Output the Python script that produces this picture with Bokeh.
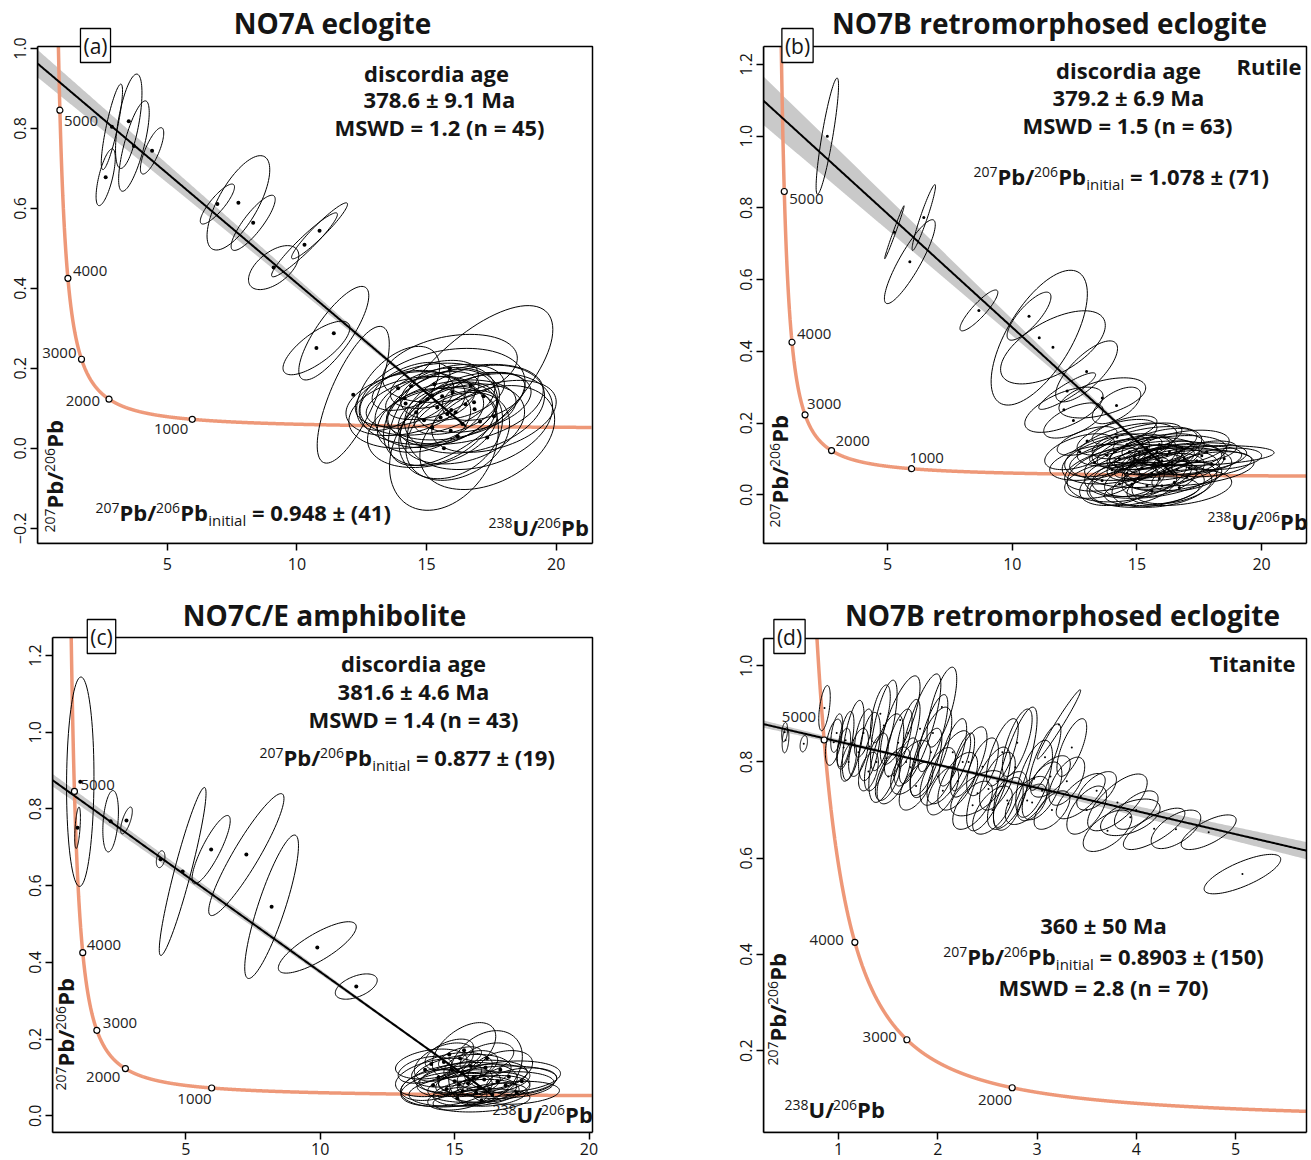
import numpy as np
from bokeh.plotting import figure
from bokeh.layouts import column, row
from bokeh.models import Range1d, FixedTicker, Label
from bokeh.embed import file_html
from bokeh.resources import INLINE

FONT = "Open Sans"

# ---- constants for the Tera-Wasserburg concordia ----
LAMBDA_238 = 1.55125e-4   # per Ma
LAMBDA_235 = 9.8485e-4    # per Ma
U238_U235 = 137.818
concordia_ages = [1000, 2000, 3000, 4000, 5000]

# ---- panel (a): NO7A eclogite ----
a_x = [2.86, 3.51, 3.71, 4.41, 2.62, 6.93, 7.74, 8.31, 9.10, 10.29, 10.87, 11.42, 10.75, 12.17, 16.70,
       13.9, 15.9, 14.15, 14.19, 14.77, 15.03, 15.22, 15.41, 15.54, 15.80, 15.95, 16.12, 16.38, 16.83, 16.85,
       17.06, 17.34, 15.67, 15.93, 15.22, 14.6, 16.5, 17.6, 16.0, 14.9, 15.6, 16.2, 17.2, 15.3, 14.4]
a_y = [0.804, 0.818, 0.756, 0.744, 0.678, 0.611, 0.614, 0.564, 0.452, 0.509, 0.544, 0.288, 0.251, 0.134, 0.157,
       0.15, 0.20, 0.125, 0.112, 0.115, 0.123, 0.132, 0.102, 0.077, 0.086, 0.096, 0.09, 0.061, 0.115, 0.098,
       0.067, 0.027, 0.0, 0.044, 0.052, 0.09, 0.11, 0.08, 0.14, 0.07, 0.13, 0.03, 0.13, 0.16, 0.155]
a_sx = [0.41, 0.51, 0.59, 0.45, 0.37, 0.66, 1.21, 0.85, 0.97, 1.27, 1.08, 1.35, 1.29, 1.39, 3.17,
        1.6, 2.6, 1.9, 2.3, 2.1, 2.6, 1.8, 2.4, 2.2, 1.9, 2.5, 1.6, 2.4, 2.2, 2.7,
        2.8, 2.6, 2.1, 2.0, 2.5, 2.6, 3.0, 2.4, 2.0, 1.8, 3.2, 2.0, 1.6, 1.7, 1.5]
a_sy = [0.107, 0.118, 0.113, 0.058, 0.071, 0.050, 0.118, 0.069, 0.055, 0.080, 0.070, 0.117, 0.067, 0.171, 0.200,
        0.105, 0.085, 0.07, 0.08, 0.065, 0.09, 0.06, 0.1, 0.12, 0.08, 0.075, 0.055, 0.1, 0.075, 0.11,
        0.12, 0.13, 0.155, 0.12, 0.1, 0.09, 0.1, 0.09, 0.07, 0.08, 0.12, 0.11, 0.06, 0.06, 0.06]
a_rho = [0.84, 0.60, 0.74, 0.77, 0.68, 0.85, 0.70, 0.85, 0.55, 0.95, 0.95, 0.80, 0.75, 0.74, 0.70,
         0.5, 0.3, 0.35, 0.3, 0.4, 0.3, 0.45, 0.3, 0.35, 0.4, 0.3, 0.5, 0.3, 0.35, 0.3,
         0.3, 0.35, 0.3, 0.25, 0.3, 0.25, 0.35, 0.4, 0.3, 0.3, 0.3, 0.3, 0.4, 0.4, 0.5]
a_age, a_y0 = 378.6, 0.962
a_band = (15.5, 0.004, 0.0022)
a_xticks = [5, 10, 15, 20]
a_yticks = [-0.2, 0.0, 0.2, 0.4, 0.6, 0.8, 1.0]
a_ylabels = ["\u22120.2", "0.0", "0.2", "0.4", "0.6", "0.8", "1.0"]

# ---- panel (b): NO7B rutile ----
b_x = [2.58, 5.27, 6.45, 5.89, 8.66, 10.67, 11.08, 11.63, 12.98, 12.20, 12.07, 13.61, 14.18, 12.45,
       14.2, 14.6, 15.0, 15.4, 15.8, 16.2, 13.8, 14.3, 14.9, 15.3, 15.7, 16.4, 16.9, 17.4, 17.6,
       14.0, 14.6, 15.2, 15.6, 16.1, 16.6, 17.1, 14.8, 15.4, 16.0, 16.5, 13.6, 14.3, 15.1, 15.5,
       14.7, 16.0, 15.9, 14.5, 16.8, 13.3, 15.2, 15.9, 16.3, 14.9, 17.0, 18.0, 15.6, 14.1, 16.7,
       13.0, 12.7, 17.8, 18.5]
b_y = [1.00, 0.732, 0.773, 0.650, 0.514, 0.498, 0.438, 0.411, 0.344, 0.289, 0.237, 0.270, 0.249, 0.207,
       0.16, 0.14, 0.15, 0.13, 0.12, 0.11, 0.11, 0.10, 0.10, 0.09, 0.085, 0.09, 0.10, 0.095, 0.109,
       0.07, 0.06, 0.055, 0.06, 0.065, 0.07, 0.075, 0.03, 0.025, 0.025, 0.035, 0.04, 0.03, 0.12, 0.105,
       0.12, 0.095, 0.14, 0.18, 0.13, 0.09, 0.075, 0.045, 0.12, 0.04, 0.05, 0.085, 0.01, 0.12, 0.02,
       0.15, 0.12, 0.12, 0.10]
b_sx = [0.45, 0.39, 0.47, 1.02, 0.76, 0.88, 1.93, 2.10, 1.24, 1.14, 1.57, 1.74, 0.97, 1.19,
        1.6, 2.0, 1.8, 2.2, 1.9, 2.4, 1.7, 2.3, 2.6, 1.5, 2.8, 2.0, 2.5, 1.8, 2.9,
        1.9, 2.4, 2.0, 2.7, 1.6, 2.2, 2.6, 1.8, 2.3, 2.0, 1.7, 1.5, 1.6, 1.2, 1.4,
        1.3, 1.3, 1.5, 1.3, 1.9, 1.8, 1.1, 1.5, 1.0, 1.2, 1.4, 1.6, 1.9, 1.0, 2.1,
        1.2, 1.4, 1.2, 1.5]
b_sy = [0.162, 0.074, 0.092, 0.117, 0.057, 0.067, 0.188, 0.102, 0.085, 0.051, 0.063, 0.056, 0.051, 0.049,
        0.05, 0.06, 0.05, 0.06, 0.05, 0.055, 0.06, 0.07, 0.06, 0.05, 0.065, 0.05, 0.045, 0.04, 0.028,
        0.06, 0.08, 0.06, 0.07, 0.05, 0.06, 0.05, 0.06, 0.06, 0.06, 0.06, 0.05, 0.06, 0.04, 0.035,
        0.045, 0.04, 0.045, 0.04, 0.05, 0.05, 0.03, 0.05, 0.03, 0.045, 0.04, 0.035, 0.04, 0.035, 0.05,
        0.04, 0.05, 0.03, 0.03]
b_rho = [0.87, 0.99, 0.95, 0.88, 0.88, 0.80, 0.65, 0.60, 0.75, 0.90, 0.60, 0.50, 0.60, 0.60,
         0.55, 0.5, 0.6, 0.4, 0.45, 0.35, 0.45, 0.4, 0.35, 0.5, 0.3, 0.4, 0.35, 0.4, 0.3,
         0.4, 0.3, 0.35, 0.3, 0.4, 0.35, 0.3, 0.3, 0.25, 0.3, 0.35, 0.4, 0.35, 0.6, 0.5,
         0.55, 0.5, 0.5, 0.6, 0.4, 0.4, 0.5, 0.4, 0.6, 0.4, 0.4, 0.35, 0.3, 0.6, 0.3,
         0.6, 0.5, 0.4, 0.3]
b_age, b_y0 = 379.2, 1.10
b_band = (15.0, 0.005, 0.0045)
b_xticks = [0, 5, 10, 15, 20]
b_yticks = [0.0, 0.2, 0.4, 0.6, 0.8, 1.0, 1.2]
b_ylabels = ["0.0", "0.2", "0.4", "0.6", "0.8", "1.0", "1.2"]

# ---- panel (c): NO7C/E amphibolite ----
c_x = [1.07, 0.97, 2.20, 2.79, 4.06, 4.88, 5.94, 7.25, 8.19, 9.89, 11.34,
       15.35, 16.15, 14.13, 17.02, 15.16, 14.6, 14.9, 15.3, 15.7, 16.1, 16.6, 14.4, 15.0, 15.5, 15.9,
       16.3, 16.9, 14.7, 15.3, 15.8, 16.4, 14.2, 15.6, 14.8, 16.7, 17.5, 15.1, 16.0, 13.9, 15.2, 16.2, 17.3]
c_y = [0.871, 0.751, 0.768, 0.770, 0.669, 0.637, 0.694, 0.681, 0.545, 0.439, 0.337,
       0.171, 0.126, 0.135, 0.102, 0.081, 0.14, 0.12, 0.11, 0.10, 0.095, 0.09, 0.10, 0.09, 0.085, 0.075,
       0.07, 0.08, 0.07, 0.065, 0.06, 0.055, 0.08, 0.13, 0.16, 0.12, 0.09, 0.045, 0.04, 0.12, 0.15, 0.15, 0.06]
c_sx = [0.51, 0.106, 0.29, 0.217, 0.16, 0.87, 0.71, 1.40, 1.00, 1.45, 0.78,
        1.18, 1.37, 1.33, 1.92, 2.17, 1.1, 1.5, 1.8, 2.0, 1.7, 2.2, 1.6, 1.4, 1.2, 1.9,
        1.5, 1.8, 1.7, 2.0, 1.6, 1.3, 1.2, 1.0, 0.9, 1.2, 1.3, 1.1, 1.8, 1.0, 0.8, 1.0, 1.6]
c_sy = [0.273, 0.054, 0.080, 0.035, 0.022, 0.219, 0.089, 0.159, 0.187, 0.067, 0.033,
        0.072, 0.096, 0.039, 0.041, 0.058, 0.05, 0.045, 0.05, 0.045, 0.04, 0.04, 0.05, 0.04, 0.035, 0.04,
        0.035, 0.035, 0.045, 0.04, 0.035, 0.03, 0.04, 0.04, 0.04, 0.05, 0.035, 0.03, 0.03, 0.035, 0.03, 0.04, 0.03]
c_rho = [0.05, 0.5, 0.3, 0.7, 0.3, 0.93, 0.85, 0.92, 0.85, 0.80, 0.5,
         0.5, 0.3, 0.3, 0.2, 0.3, 0.45, 0.35, 0.3, 0.3, 0.25, 0.2, 0.35, 0.3, 0.3, 0.25,
         0.25, 0.2, 0.3, 0.25, 0.25, 0.3, 0.35, 0.4, 0.5, 0.35, 0.25, 0.3, 0.25, 0.4, 0.5, 0.4, 0.2]
c_age, c_y0 = 381.6, 0.877
c_band = (15.0, 0.003, 0.00107)
c_xticks = [0, 5, 10, 15, 20]
c_yticks = [0.0, 0.2, 0.4, 0.6, 0.8, 1.0, 1.2]
c_ylabels = ["0.0", "0.2", "0.4", "0.6", "0.8", "1.0", "1.2"]

# ---- panel (d): NO7B titanite ----
d_x = [0.464, 0.455, 0.648, 0.857,
       3.22, 3.08, 3.135, 3.44, 3.81, 3.71, 3.94, 4.18, 4.73, 5.07,
       0.95, 1.07, 1.146, 1.31, 1.455, 1.48, 1.62, 1.82, 2.04, 1.555, 1.724, 1.93, 2.11, 2.31, 2.40,
       2.51, 2.78, 2.97, 2.71, 2.95,
       1.20, 1.38, 1.60, 1.70, 1.88, 2.00, 2.20, 2.15, 2.45, 2.60, 2.70, 2.90, 1.05, 1.25, 1.50, 1.78,
       2.35, 2.55, 3.30, 3.50, 2.80, 3.05, 1.30, 1.95,
       1.10, 1.42, 1.68, 2.05, 2.25, 2.65, 3.15, 3.60, 4.00, 4.40, 0.98, 3.35]
d_y = [0.845, 0.862, 0.838, 0.912,
       0.878, 0.810, 0.770, 0.729, 0.716, 0.657, 0.685, 0.661, 0.654, 0.567,
       0.841, 0.845, 0.845, 0.832, 0.876, 0.808, 0.887, 0.869, 0.914, 0.772, 0.789, 0.820, 0.789, 0.800, 0.735,
       0.744, 0.789, 0.765, 0.713, 0.716,
       0.82, 0.80, 0.84, 0.86, 0.80, 0.77, 0.76, 0.82, 0.79, 0.76, 0.72, 0.72, 0.83, 0.86, 0.77, 0.75,
       0.71, 0.70, 0.76, 0.70, 0.84, 0.74, 0.78, 0.86,
       0.80, 0.90, 0.80, 0.74, 0.80, 0.82, 0.70, 0.74, 0.70, 0.66, 0.86, 0.83]
d_sx = [0.034, 0.030, 0.037, 0.058,
        0.219, 0.16, 0.20, 0.247, 0.30, 0.245, 0.30, 0.31, 0.277, 0.386,
        0.084, 0.084, 0.11, 0.11, 0.134, 0.176, 0.20, 0.21, 0.15, 0.168, 0.20, 0.21, 0.22, 0.185, 0.27,
        0.22, 0.22, 0.185, 0.15, 0.15,
        0.10, 0.12, 0.14, 0.12, 0.16, 0.18, 0.20, 0.14, 0.16, 0.18, 0.20, 0.22, 0.07, 0.09, 0.13, 0.17,
        0.20, 0.20, 0.18, 0.20, 0.15, 0.20, 0.10, 0.15,
        0.08, 0.10, 0.12, 0.16, 0.12, 0.16, 0.18, 0.20, 0.22, 0.25, 0.06, 0.15]
d_sy = [0.026, 0.020, 0.017, 0.047,
        0.072, 0.069, 0.043, 0.047, 0.059, 0.043, 0.038, 0.043, 0.036, 0.041,
        0.048, 0.060, 0.083, 0.071, 0.094, 0.092, 0.092, 0.114, 0.083, 0.059, 0.056, 0.094, 0.076, 0.073, 0.047,
        0.087, 0.125, 0.080, 0.055, 0.038,
        0.05, 0.06, 0.07, 0.07, 0.07, 0.06, 0.06, 0.07, 0.06, 0.06, 0.06, 0.05, 0.04, 0.05, 0.05, 0.05,
        0.05, 0.05, 0.05, 0.05, 0.07, 0.06, 0.04, 0.08,
        0.04, 0.06, 0.05, 0.05, 0.06, 0.07, 0.04, 0.04, 0.04, 0.04, 0.04, 0.06]
d_rho = [0.3, 0.3, 0.3, 0.5,
         0.98, 0.8, 0.6, 0.7, 0.7, 0.6, 0.5, 0.75, 0.7, 0.75,
         0.5, 0.6, 0.6, 0.5, 0.7, 0.6, 0.75, 0.8, 0.7, 0.6, 0.6, 0.7, 0.7, 0.7, 0.6,
         0.7, 0.8, 0.6, 0.5, 0.5,
         0.5, 0.6, 0.7, 0.7, 0.7, 0.6, 0.6, 0.7, 0.6, 0.6, 0.6, 0.6, 0.5, 0.6, 0.6, 0.6,
         0.6, 0.6, 0.6, 0.6, 0.7, 0.6, 0.5, 0.75,
         0.5, 0.6, 0.6, 0.6, 0.7, 0.7, 0.6, 0.6, 0.6, 0.6, 0.5, 0.7]
d_age, d_y0 = 360.0, 0.8903
d_band = (1.8, 0.003, 0.0045)
d_xticks = [1, 2, 3, 4, 5]
d_yticks = [0.2, 0.4, 0.6, 0.8, 1.0]
d_ylabels = ["0.2", "0.4", "0.6", "0.8", "1.0"]


# ---------------------------------------------------------------
def concordia(t):
    t = np.asarray(t, dtype=float)
    e8 = np.exp(LAMBDA_238 * t) - 1.0
    e5 = np.exp(LAMBDA_235 * t) - 1.0
    return 1.0 / e8, e5 / e8 / U238_U235


REG_W = {"i": 0.253, "n": 0.614, "t": 0.353, "a": 0.556, "l": 0.253, " ": 0.26, ".": 0.266,
         "(": 0.296, ")": 0.296}
BOLD_W = {" ": 0.26, ".": 0.286, "=": 0.572, "\u00b1": 0.572, "(": 0.339, ")": 0.339, "/": 0.388,
          "P": 0.642, "b": 0.633, "U": 0.729, "M": 0.919, "S": 0.549, "W": 0.962, "D": 0.721,
          "n": 0.634, "a": 0.596, "d": 0.633, "i": 0.297, "s": 0.508, "c": 0.51, "o": 0.613,
          "r": 0.448, "g": 0.556, "e": 0.581}

BASELINE_FIX = 0.42   # rendered text sits ~0.42 em lower than the requested alphabetic baseline


def tw(s, size, bold):
    tbl = BOLD_W if bold else REG_W
    return sum(0.572 if ch.isdigit() else tbl.get(ch, 0.58 if bold else 0.55) for ch in s) * size


def to_data(cfg, px, py):
    return (cfg["box"][0] + (px - cfg["box_px"][0]) / cfg["sx"],
            cfg["box"][3] - (py - cfg["box_px"][1]) / cfg["sy"])


def add_label(p, cfg, px, py, text, size, bold, align="left", baseline="alphabetic", angle=0.0, **kw):
    if baseline == "alphabetic":
        if angle == 0.0:
            py = py - BASELINE_FIX * size
        else:
            px = px - BASELINE_FIX * size
    X, Y = to_data(cfg, px, py)
    p.add_layout(Label(x=X, y=Y, text=text, text_font=FONT, text_font_size=f"{size}px",
                       text_font_style="bold" if bold else "normal", text_align=align,
                       text_baseline=baseline, angle=angle, text_color="#151515", **kw))


def rich(p, cfg, pieces, px, py, align="left"):
    widths = [tw(s, sz, b) for (s, sz, b, sh) in pieces]
    total = sum(widths)
    x = px - total / 2 if align == "center" else (px - total if align == "right" else px)
    for (s, sz, b, sh), w in zip(pieces, widths):
        lead = len(s) - len(s.lstrip(" "))
        add_label(p, cfg, x + tw(" " * lead, sz, b), py - sh, s.lstrip(" "), sz, b)
        x += w


def rich_vertical(p, cfg, pieces, bx, by):
    y = by
    for (s, sz, b, sh) in pieces:
        add_label(p, cfg, bx - sh, y, s, sz, b, angle=np.pi / 2)
        y -= tw(s, sz, b)


SUP, MAIN, SUB = 14, 22, 15
RAISE, LOWER = 8, -5


def ratio(initial=False, tail=""):
    pcs = [("207", SUP, False, RAISE), ("Pb/", MAIN, True, 0), ("206", SUP, False, RAISE), ("Pb", MAIN, True, 0)]
    if initial:
        pcs.append(("initial", SUB, False, LOWER))
    if tail:
        pcs.append((tail, MAIN, True, 0))
    return pcs


XLAB = [("238", SUP, False, RAISE), ("U/", MAIN, True, 0), ("206", SUP, False, RAISE), ("Pb", MAIN, True, 0)]


def make_panel(cfg):
    W, H = cfg["size"]
    px0, py0 = cfg["page"]
    L, T, R, B = cfg["box_px"]
    x0, x1, y0, y1 = cfg["box"]
    sx = (R - L) / (x1 - x0)
    sy = (B - T) / (y1 - y0)
    cfg["sx"], cfg["sy"] = sx, sy
    bl = L - px0
    br = px0 + W - (R + 2)
    bb = py0 + H - B
    xr = (x0, x1 + 2.0 / sx)
    yr = (y0, y1 + (T - py0) / sy)

    p = figure(width=W, height=H, x_range=Range1d(*xr), y_range=Range1d(*yr),
               output_backend="svg", toolbar_location=None, title=None,
               min_border_left=bl, min_border_right=br, min_border_top=0, min_border_bottom=bb)
    p.background_fill_color = "white"
    p.border_fill_color = "white"
    p.xgrid.visible = False
    p.ygrid.visible = False
    p.outline_line_color = None
    p.xaxis.ticker = FixedTicker(ticks=cfg["xticks"])
    p.yaxis.ticker = FixedTicker(ticks=cfg["yticks"])
    p.yaxis.major_label_overrides = {float(v): s for v, s in zip(cfg["yticks"], cfg["ylabels"])}
    p.yaxis.major_label_orientation = "vertical"
    p.xaxis.bounds = (x0, x1)
    p.yaxis.bounds = (y0, y1)
    for ax in (p.xaxis[0], p.yaxis[0]):
        ax.major_tick_out = 7
        ax.major_tick_in = 0
        ax.minor_tick_out = 0
        ax.minor_tick_in = 0
        ax.major_tick_line_width = 1.5
        ax.axis_line_width = 1.5
        ax.major_label_text_font = FONT
        ax.major_label_text_font_size = "16px"
        ax.major_label_text_color = "#151515"
    p.xaxis.major_label_standoff = cfg["standoff"]
    p.yaxis.major_label_standoff = 4

    # discordia line and its confidence band (clipped at the plot box)
    xi, yi = concordia(cfg["age"])
    xi, yi = float(xi), float(yi)
    y0l = cfg["y0"]
    xl = np.linspace(0.0, min(xi, x1), 400)
    yl = y0l + (yi - y0l) * xl / xi
    xc, ec, k = cfg["band"]
    w = np.sqrt(ec ** 2 + (k * (xl - xc)) ** 2)
    p.varea(x=xl, y1=yl - w, y2=yl + w, fill_color="#c9c9c9")

    # concordia curve, kept inside the plot box
    t = np.linspace(40, 5800, 8000)
    cx, cy = concordia(t)
    keep = (cy <= y1) & (cx <= x1)
    p.line(cx[keep], cy[keep], line_color="#ee9878", line_width=3.5)

    p.line(xl, yl, line_color="black", line_width=2)

    # error ellipses
    tt = np.linspace(0, 2 * np.pi, 90)
    xs, ys = [], []
    for X, Y, ex, ey, r in zip(cfg["x"], cfg["y"], cfg["sx_"], cfg["sy_"], cfg["rho"]):
        xs.append((X + ex * np.cos(tt)).tolist())
        ys.append((Y + ey * (r * np.cos(tt) + np.sqrt(1 - r * r) * np.sin(tt))).tolist())
    p.patches(xs, ys, fill_color=None, line_color="black", line_width=1)
    p.scatter(cfg["x"], cfg["y"], size=cfg["dot"], color="black", line_color=None)

    # age ticks on the concordia
    ax_, ay_ = concordia(concordia_ages)
    inside = [(a, X, Y) for a, X, Y in zip(concordia_ages, ax_, ay_) if x0 <= X <= x1 and y0 <= Y <= y1]
    p.scatter([v[1] for v in inside], [v[2] for v in inside], size=6, fill_color="white",
              line_color="black", line_width=1.2)
    for age, X, Y in inside:
        dx, dy, al = cfg["agelab"][age]
        p.text(x=[X + dx / sx], y=[Y - dy / sy], text=[str(age)],
               text_font={"value": FONT}, text_font_size="15px",
               text_align=al, text_baseline="middle", text_color="#222222")

    # the plot box
    p.quad(left=[x0], right=[x1], bottom=[y0], top=[y1], fill_color=None, line_color="black", line_width=1.5)

    # texts
    tx, tb = cfg["title"]
    add_label(p, cfg, tx, tb, cfg["title_text"], 28, True, align="center")
    bx, by = cfg["tag"]
    add_label(p, cfg, bx, by, cfg["tag_text"], 21, False, align="center", baseline="middle",
              border_line_color="black", border_line_width=1.3, background_fill_color="white",
              padding=3)
    for text, px, py, al in cfg["lines"]:
        add_label(p, cfg, px, py, text, MAIN, True, align=al)
    ip, ipx, ipy, ial = cfg["initial"]
    rich(p, cfg, ratio(True, ip), ipx, ipy, align=ial)
    rich(p, cfg, XLAB, cfg["xlab"][0], cfg["xlab"][1])
    rich_vertical(p, cfg, ratio(), cfg["ylab"][0], cfg["ylab"][1])
    return p


panels = [
    dict(page=(0, 0), size=(655, 588), box_px=(37, 46, 592, 543), box=(-0.01, 21.4, -0.238, 1.005),
         x=a_x, y=a_y, sx_=a_sx, sy_=a_sy, rho=a_rho, age=a_age, y0=a_y0, band=a_band, dot=4,
         xticks=a_xticks, yticks=a_yticks, ylabels=a_ylabels, standoff=7,
         agelab={5000: (4, 11, "left"), 4000: (5, -7, "left"), 3000: (-5, -6, "right"),
                 2000: (-9, 2, "right"), 1000: (-4, 10, "right")},
         title=(332, 34), title_text="NO7A eclogite", tag=(95, 45), tag_text="(a)",
         lines=[("discordia age", 436, 82, "center"), ("378.6 \u00b1 9.1 Ma", 439, 108, "center"),
                ("MSWD = 1.2 (n = 45)", 439, 136, "center")],
         initial=(" = 0.948 \u00b1 (41)", 95, 521, "left"), xlab=(488, 536), ylab=(63, 532)),
    dict(page=(655, 0), size=(656, 588), box_px=(763, 46, 1306, 543), box=(0.02, 21.80, -0.136, 1.250),
         x=b_x, y=b_y, sx_=b_sx, sy_=b_sy, rho=b_rho, age=b_age, y0=b_y0, band=b_band, dot=3,
         xticks=b_xticks, yticks=b_yticks, ylabels=b_ylabels, standoff=7,
         agelab={5000: (5, 8, "left"), 4000: (5, -8, "left"), 3000: (2, -11, "left"),
                 2000: (4, -10, "left"), 1000: (-2, -11, "left")},
         title=(1049, 34), title_text="NO7B retromorphosed eclogite", tag=(797, 45), tag_text="(b)",
         lines=[("discordia age", 1128, 79, "center"), ("379.2 \u00b1 6.9 Ma", 1128, 106, "center"),
                ("MSWD = 1.5 (n = 63)", 1127, 134, "center"), ("Rutile", 1301, 75, "right")],
         initial=(" = 1.078 \u00b1 (71)", 973, 185, "left"), xlab=(1207, 530), ylab=(788, 527)),
    dict(page=(0, 588), size=(655, 572), box_px=(52, 637, 592, 1132), box=(0.037, 20.13, -0.0435, 1.247),
         x=c_x, y=c_y, sx_=c_sx, sy_=c_sy, rho=c_rho, age=c_age, y0=c_y0, band=c_band, dot=4,
         xticks=c_xticks, yticks=c_yticks, ylabels=c_ylabels, standoff=3,
         agelab={5000: (6, -6, "left"), 4000: (4, -8, "left"), 3000: (6, -7, "left"),
                 2000: (-5, 8, "right"), 1000: (0, 11, "right")},
         title=(324, 626), title_text="NO7C/E amphibolite", tag=(101, 636), tag_text="(c)",
         lines=[("discordia age", 413, 672, "center"), ("381.6 \u00b1 4.6 Ma", 413, 700, "center"),
                ("MSWD = 1.4 (n = 43)", 413, 728, "center")],
         initial=(" = 0.877 \u00b1 (19)", 259, 766, "left"), xlab=(492, 1123), ylab=(74, 1090)),
    dict(page=(655, 588), size=(656, 572), box_px=(763, 638, 1306, 1132), box=(0.242, 5.716, 0.030, 1.0566),
         x=d_x, y=d_y, sx_=d_sx, sy_=d_sy, rho=d_rho, age=d_age, y0=d_y0, band=d_band, dot=2,
         xticks=d_xticks, yticks=d_yticks, ylabels=d_ylabels, standoff=3,
         agelab={5000: (-8, -23, "right"), 4000: (-11, -2, "right"), 3000: (-10, -3, "right"),
                 2000: (0, 12, "right"), 1000: (0, 12, "right")},
         title=(1062, 626), title_text="NO7B retromorphosed eclogite", tag=(789, 636), tag_text="(d)",
         lines=[("Titanite", 1295, 672, "right"), ("360 \u00b1 50 Ma", 1103, 934, "center"),
                ("MSWD = 2.8 (n = 70)", 1103, 996, "center")],
         initial=(" = 0.8903 \u00b1 (150)", 1103, 965, "center"), xlab=(784, 1118), ylab=(786, 1065)),
]

figs = [make_panel(c) for c in panels]
layout = column(row(figs[0], figs[1]), row(figs[2], figs[3]))
open("out.html", "w").write(file_html(layout, INLINE))
